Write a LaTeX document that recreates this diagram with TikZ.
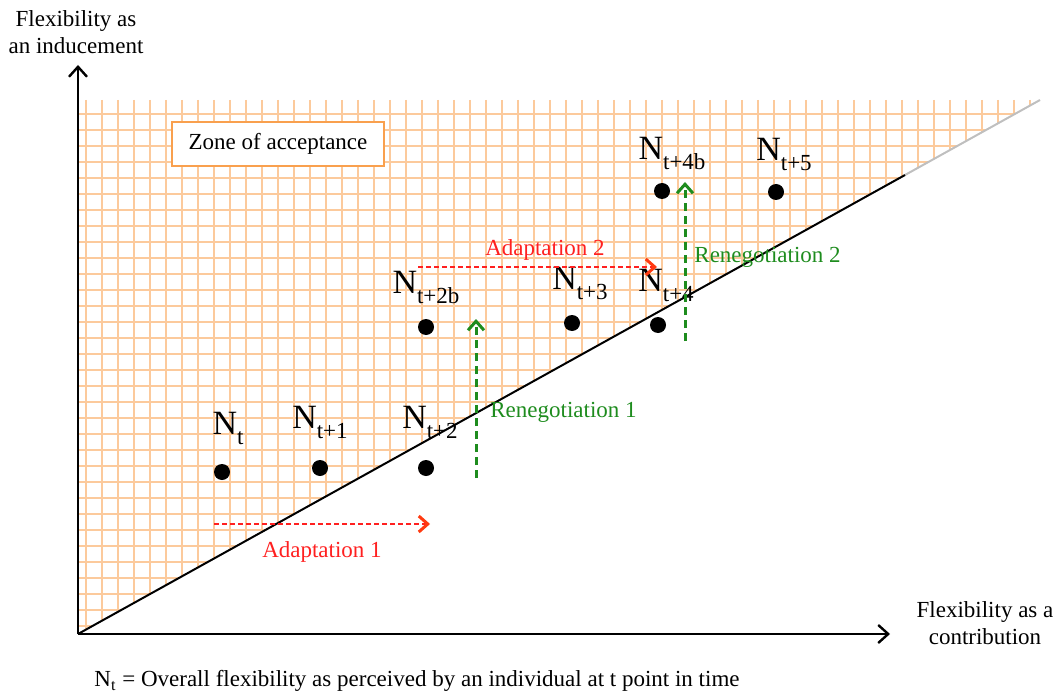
\documentclass[tikz,border=0pt]{standalone}
\usepackage{fontspec}
\setmainfont{Liberation Serif}
\usetikzlibrary{positioning,arrows.meta}
\definecolor{gridorange}{HTML}{FCCA9C}
\definecolor{zoneorange}{HTML}{F9A04E}
\definecolor{adaptred}{HTML}{FF2020}
\definecolor{tipred}{HTML}{FF3A10}
\definecolor{renegreen}{HTML}{1E8C1E}
\newcommand{\Nlabel}[1]{N\raisebox{-0.3em}{\fontsize{11.5}{12}\selectfont #1}}

\tikzset{
  gridline/.style={gridorange, line width=1pt},
  axis/.style={line width=1.2pt, -{Straight Barb[length=5pt,width=9pt,line width=1.2pt]}},
  dot/.style={circle, fill=black, inner sep=0pt, minimum size=8pt},
  nlab/.style={inner sep=0pt, font=\fontsize{17}{19}\selectfont},
  adapt/.style={adaptred, line width=0.6pt, dash pattern=on 2.5pt off 1.5pt,
    -{Straight Barb[length=4.5pt,width=8pt,line width=1.5pt,color=tipred]}},
  renego/.style={renegreen, line width=1.5pt, dash pattern=on 4pt off 2.5pt,
    -{Straight Barb[length=4.5pt,width=8pt,line width=1.5pt]}},
  plainlab/.style={font=\fontsize{11.5}{13.5}\selectfont, align=center, inner sep=0pt},
}

\begin{document}
\begin{tikzpicture}[x=0.5pt, y=-0.5pt]
\useasboundingbox (0,0) rectangle (1064,695);

% grid of the zone of acceptance
\begin{scope}
\clip (78,100) -- (1040,100) -- (78,634) -- cycle;
\foreach \gx in {86,102,...,1046} \draw[gridline] (\gx,100) -- (\gx,634);
\foreach \gy in {114,130,...,634} \draw[gridline] (78,\gy) -- (1040,\gy);
\end{scope}

\node[plainlab, draw=zoneorange, line width=1.3pt, fill=white,
      minimum width=106pt, minimum height=22pt] (zone) at (278,144) {Zone of acceptance};

% axes
\coordinate (origin) at (78,634);
\coordinate (ytip) at (78,65);
\coordinate (xtip) at (890,634);
\coordinate (diagend) at (905,175);
\coordinate (diagfade) at (1040,100);
\draw[axis] (origin) -- (ytip);
\draw[axis] (origin) -- (xtip);

% positions over time
\node[dot] (nt) at (222,472) {};
\node[dot] (nt1) at (320,468) {};
\node[dot] (nt2) at (426,468) {};
\node[dot] (nt2b) at (426,327) {};
\node[dot] (nt3) at (572,323) {};
\node[dot] (nt4) at (658,325) {};
\node[dot] (nt4b) at (662,191) {};
\node[dot] (nt5) at (776,192) {};

\node[nlab, above=9pt of nt, xshift=3pt] (ntlab) {\Nlabel{t}};
\node[nlab, above=10pt of nt1] (nt1lab) {\Nlabel{t+1}};
\node[nlab, above=10pt of nt2, xshift=2pt] (nt2lab) {\Nlabel{t+2}};
\node[nlab, above=7pt of nt2b] (nt2blab) {\Nlabel{t+2b}};
\node[nlab, above=7pt of nt3, xshift=4pt] (nt3lab) {\Nlabel{t+3}};
\node[nlab, above=7pt of nt4, xshift=4pt] (nt4lab) {\Nlabel{t+4}};
\node[nlab, above=6pt of nt4b, xshift=5pt] (nt4blab) {\Nlabel{t+4b}};
\node[nlab, above=6pt of nt5, xshift=4pt] (nt5lab) {\Nlabel{t+5}};

% boundary of the zone
\draw[gray!50, line width=1pt] (diagend) -- (diagfade);
\draw[line width=1pt] (origin) -- (diagend);

% adaptations and renegotiations
\coordinate (ad1start) at (214,524);
\coordinate (ad1end) at (430,524);
\coordinate (ad2start) at (418,267);
\coordinate (ad2end) at (657,267);
\coordinate (re1start) at (476,478);
\coordinate (re1end) at (476,319);
\coordinate (re2start) at (685,341);
\coordinate (re2end) at (685,182);
\draw[adapt] (ad1start) -- (ad1end);
\draw[adapt] (ad2start) -- (ad2end);
\draw[renego] (re1start) -- (re1end);
\draw[renego] (re2start) -- (re2end);
\node[plainlab, adaptred] (ad1lab) at (322,552) {Adaptation 1};
\node[plainlab, adaptred] (ad2lab) at (545,250) {Adaptation 2};
\node[plainlab, renegreen, anchor=west] (re1lab) at (490,412) {Renegotiation 1};
\node[plainlab, renegreen, anchor=west] (re2lab) at (694,257) {Renegotiation 2};

% axis titles and note
\node[plainlab] (ylab) at (76,32) {Flexibility as\\an inducement};
\node[plainlab] (xlab) at (985,623) {Flexibility as a\\contribution};
\node[plainlab] (note) at (417,681) {N\textsubscript{t} = Overall flexibility as perceived by an individual at t point in time};
\end{tikzpicture}
\end{document}
